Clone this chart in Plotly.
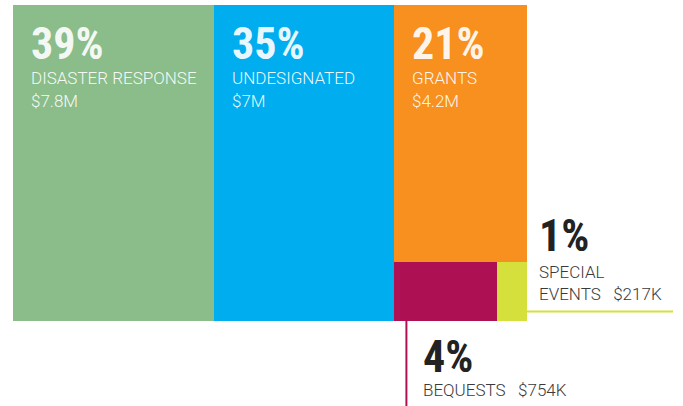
import plotly.graph_objects as go

# ---- data ----
categories = ["DISASTER RESPONSE", "UNDESIGNATED", "GRANTS", "BEQUESTS", "SPECIAL EVENTS"]
amounts_m = [7.8, 7.0, 4.2, 0.754, 0.217]          # $ millions
amount_labels = ["$7.8M", "$7M", "$4.2M", "$754K", "$217K"]
percents = [39, 35, 21, 4, 1]
colors = ["#8bbd8b", "#00aeef", "#f7901e", "#ae1153", "#d5e03d"]

# ---- layout of rectangles computed from the values ----
# columns: green | blue | (orange over [crimson | yellow])
total = sum(amounts_m)
col3 = amounts_m[2] + amounts_m[3] + amounts_m[4]
bottom_row = amounts_m[3] + amounts_m[4]
rects = []  # (x0, x1, y0, y1) in data units: x = $M, y = fraction of height
x = 0.0
rects.append((x, x + amounts_m[0], 0.0, 1.0)); x += amounts_m[0]
rects.append((x, x + amounts_m[1], 0.0, 1.0)); x += amounts_m[1]
split = bottom_row / col3
rects.append((x, x + col3, split, 1.0))
xb = x + col3 * amounts_m[3] / bottom_row
rects.append((x, xb, 0.0, split))
rects.append((xb, x + col3, 0.0, split))

W, H = 683, 406
ml, mt = 13, 5
px_per_x = 514 / total
px_per_y = 316
plot_w = W - ml
plot_h = H - mt
xr = [0, plot_w / px_per_x]
yr = [1 - plot_h / px_per_y, 1]

fig = go.Figure()
for (x0, x1, y0, y1), c, cat in zip(rects, colors, categories):
    fig.add_trace(go.Bar(
        x=[(x0 + x1) / 2], y=[y1 - y0], base=[y0], width=[x1 - x0],
        marker=dict(color=c, line=dict(width=0)), name=cat,
        hoverinfo="skip", showlegend=False,
    ))

pct_font = dict(family="Liberation Sans Narrow, Roboto Condensed, Arial Narrow, Roboto, sans-serif",
                size=44, weight="bold")
lab_family = "Roboto, sans-serif"
lab_w = 300
white = "rgba(255,255,255,0.93)"
dark = "#222222"
gray = "#3a3a3a"

ann = []
def add(text, x, y, xs, ys, font):
    ann.append(dict(text=text, x=x, y=y, xref="x", yref="y", xanchor="left",
                    yanchor="middle", xshift=xs, yshift=ys, showarrow=False,
                    font=font))

def lab(color):
    return dict(family=lab_family, size=17, weight=lab_w, color=color)

# big in-box labels (first three)
for i in range(3):
    x0, x1, y0, y1 = rects[i]
    add(f"{percents[i]}%", x0, y1, 16, -39, dict(pct_font, color=white))
    add(categories[i], x0, y1, 16, -72.5, lab(white))
    add(amount_labels[i], x0, y1, 16, -95.5, lab(white))

# special events (right of yellow, above its leader line)
x0, x1, y0, y1 = rects[4]
add(f"{percents[4]}%", x1, y0, 10, 85, dict(pct_font, color=dark))
add("SPECIAL", x1, y0, 10, 49.5, lab(gray))
add(f"EVENTS&#160;&#160;&#160;{amount_labels[4]}", x1, y0, 10, 27, lab(gray))

# bequests (below crimson)
x0c, x1c, y0c, y1c = rects[3]
add(f"{percents[3]}%", x0c, y0c, 27, -36, dict(pct_font, color=dark))
add(f"BEQUESTS&#160;&#160;&#160;{amount_labels[3]}", x0c, y0c, 27, -69, lab(gray))

# leader lines
line_x = x0c + 12.5 / px_per_x
shapes = [
    dict(type="line", xref="x", yref="y", x0=line_x, x1=line_x, y0=y0c, y1=yr[0],
         line=dict(color=colors[3], width=2)),
    dict(type="line", xref="x", yref="y", x0=x1, x1=x1 + 146 / px_per_x,
         y0=y0 + 9.5 / px_per_y, y1=y0 + 9.5 / px_per_y,
         line=dict(color=colors[4], width=2)),
]

fig.update_layout(
    width=W, height=H,
    margin=dict(l=ml, r=0, t=mt, b=0),
    paper_bgcolor="white", plot_bgcolor="white",
    barmode="overlay", bargap=0,
    xaxis=dict(range=xr, visible=False, fixedrange=True),
    yaxis=dict(range=yr, visible=False, fixedrange=True),
    annotations=ann, shapes=shapes,
)
fig.write_html("out.html", config=dict(displayModeBar=False),
               post_script="document.body.style.margin='0';document.body.style.overflow='hidden';")
